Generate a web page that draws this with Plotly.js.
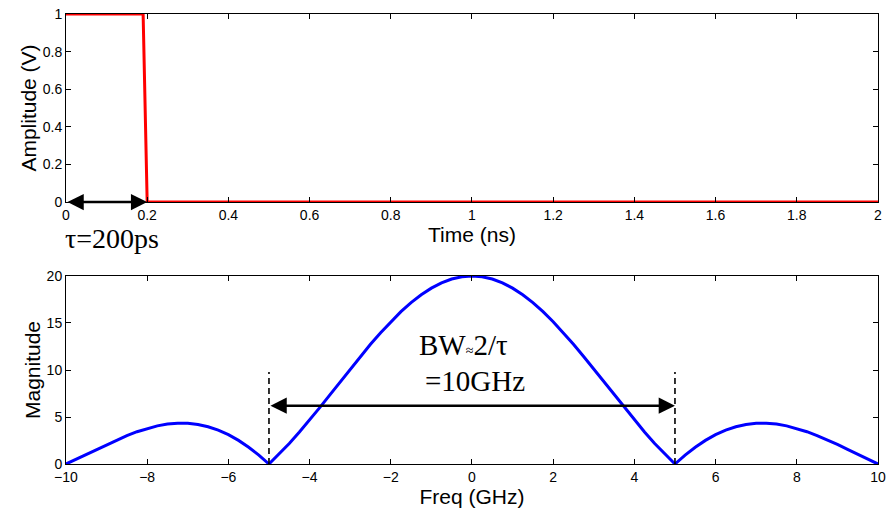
<!DOCTYPE html>
<html>
<head>
<meta charset="utf-8">
<script src="https://cdn.plot.ly/plotly-3.0.1.min.js"></script>
<style>html,body{margin:0;padding:0;background:#fff;}#chart{width:888px;height:513px;}</style>
</head>
<body>
<div id="chart"></div>
<script>
// Top panel: rectangular pulse
const timeNs = [0, 0.19, 0.2, 2];
const amplitudeV = [1, 1, 0, 0];

// Bottom panel: magnitude spectrum
const freqGHz = [-10,-9.75,-9.5,-9.25,-9,-8.75,-8.5,-8.25,-8,-7.75,-7.5,-7.25,-7,-6.75,-6.5,-6.25,-6,-5.75,-5.5,-5.25,-5,
  -4.75,-4.5,-4.25,-4,-3.75,-3.5,-3.25,-3,-2.75,-2.5,-2.25,-2,-1.75,-1.5,-1.25,-1,-0.75,-0.5,-0.25,0,
  0.25,0.5,0.75,1,1.25,1.5,1.75,2,2.25,2.5,2.75,3,3.25,3.5,3.75,4,4.25,4.5,4.75,5,
  5.25,5.5,5.75,6,6.25,6.5,6.75,7,7.25,7.5,7.75,8,8.25,8.5,8.75,9,9.25,9.5,9.75,10];
const magnitude = [0,0.511,1.035,1.562,2.079,2.572,3.030,3.438,3.784,4.057,4.244,4.336,4.325,4.202,3.962,3.601,3.118,2.513,1.788,0.948,0,
  1.048,2.186,3.400,4.677,6.002,7.358,8.727,10.091,11.432,12.732,13.973,15.137,16.207,17.168,18.006,18.710,19.268,19.673,19.918,20,
  19.918,19.673,19.268,18.710,18.006,17.168,16.207,15.137,13.973,12.732,11.432,10.091,8.727,7.358,6.002,4.677,3.400,2.186,1.048,0,
  0.948,1.788,2.513,3.118,3.601,3.962,4.202,4.325,4.336,4.244,4.057,3.784,3.438,3.030,2.572,2.079,1.562,1.035,0.511,0];

// Annotation values
const tauSpan = [0, 0.2];
const bwSpan = [-5, 5];
const bwArrowLevel = 6.2;
const markerLineTop = 9.8;
const tauLabel = 'τ=200ps';
const bwLabel1 = 'BW<span style="font-size:14px">≈</span>2/τ';
const bwLabel2 = '=10GHz';

const tickFont = {family: 'Liberation Sans, Arial, sans-serif', size: 14, color: '#000'};
const titleFont = {family: 'Liberation Sans, Arial, sans-serif', size: 21, color: '#000'};
const serif = {family: 'Liberation Serif, Times New Roman, serif', size: 29, color: '#000'};

function axisBase(extra) {
  return Object.assign({
    showline: true, linecolor: '#000', linewidth: 1, mirror: 'ticks',
    ticks: 'inside', ticklen: 5, tickwidth: 1, tickcolor: '#000',
    showgrid: false, zeroline: false, tickfont: tickFont
  }, extra);
}

const traces = [
  {x: timeNs, y: amplitudeV, xaxis: 'x', yaxis: 'y', mode: 'lines',
   line: {color: '#ff0000', width: 3}, cliponaxis: false, hoverinfo: 'skip'},
  {x: freqGHz, y: magnitude, xaxis: 'x2', yaxis: 'y2', mode: 'lines',
   line: {color: '#0000ff', width: 3}, cliponaxis: false, hoverinfo: 'skip'}
];

const layout = {
  width: 888, height: 513,
  margin: {l: 0, r: 0, t: 0, b: 0},
  paper_bgcolor: '#fff', plot_bgcolor: '#fff',
  showlegend: false,
  xaxis: axisBase({domain: [0.0743, 0.9887], range: [0, 2], dtick: 0.2, tick0: 0, anchor: 'y', ticklabelstandoff: 0,
    title: {text: 'Time (ns)', font: titleFont, standoff: 0}}),
  yaxis: axisBase({domain: [0.6062, 0.9727], range: [0, 1], dtick: 0.2, tick0: 0, anchor: 'x',
    title: {text: 'Amplitude (V)', font: titleFont, standoff: 0}}),
  xaxis2: axisBase({domain: [0.0743, 0.9887], range: [-10, 10], dtick: 2, tick0: 0, anchor: 'y2', ticklabelstandoff: 0,
    title: {text: 'Freq (GHz)', font: titleFont, standoff: 0}}),
  yaxis2: axisBase({domain: [0.0955, 0.4620], range: [0, 20], dtick: 5, tick0: 0, anchor: 'x2',
    title: {text: 'Magnitude', font: titleFont, standoff: 0}}),
  shapes: [
    {type: 'line', xref: 'x2', yref: 'y2', x0: bwSpan[0], x1: bwSpan[0], y0: 0, y1: markerLineTop,
     line: {color: '#000', width: 1.6, dash: '6px,4px'}},
    {type: 'line', xref: 'x2', yref: 'y2', x0: bwSpan[1], x1: bwSpan[1], y0: 0, y1: markerLineTop,
     line: {color: '#000', width: 1.6, dash: '6px,4px'}}
  ],
  annotations: [
    {xref: 'x', yref: 'y', axref: 'x', ayref: 'y', x: tauSpan[1], y: 0, ax: tauSpan[0], ay: 0,
     text: '', showarrow: true, arrowhead: 2, arrowside: 'end+start', arrowsize: 1.3, arrowwidth: 2.5, arrowcolor: '#000'},
    {xref: 'x2', yref: 'y2', axref: 'x2', ayref: 'y2', x: bwSpan[1], y: bwArrowLevel, ax: bwSpan[0], ay: bwArrowLevel,
     text: '', showarrow: true, arrowhead: 2, arrowside: 'end+start', arrowsize: 1.3, arrowwidth: 2.5, arrowcolor: '#000'},
    {xref: 'paper', yref: 'paper', x: 63/888, y: 1 - 239/513, xanchor: 'left', yanchor: 'middle',
     text: tauLabel, showarrow: false, font: {family: serif.family, size: 28, color: '#000'}},
    {xref: 'paper', yref: 'paper', x: 417/888, y: 1 - 345/513, xanchor: 'left', yanchor: 'middle',
     text: bwLabel1, showarrow: false, font: serif},
    {xref: 'paper', yref: 'paper', x: 423/888, y: 1 - 381/513, xanchor: 'left', yanchor: 'middle',
     text: bwLabel2, showarrow: false, font: serif}
  ]
};

Plotly.newPlot('chart', traces, layout, {staticPlot: true, displayModeBar: false});
</script>
</body>
</html>
